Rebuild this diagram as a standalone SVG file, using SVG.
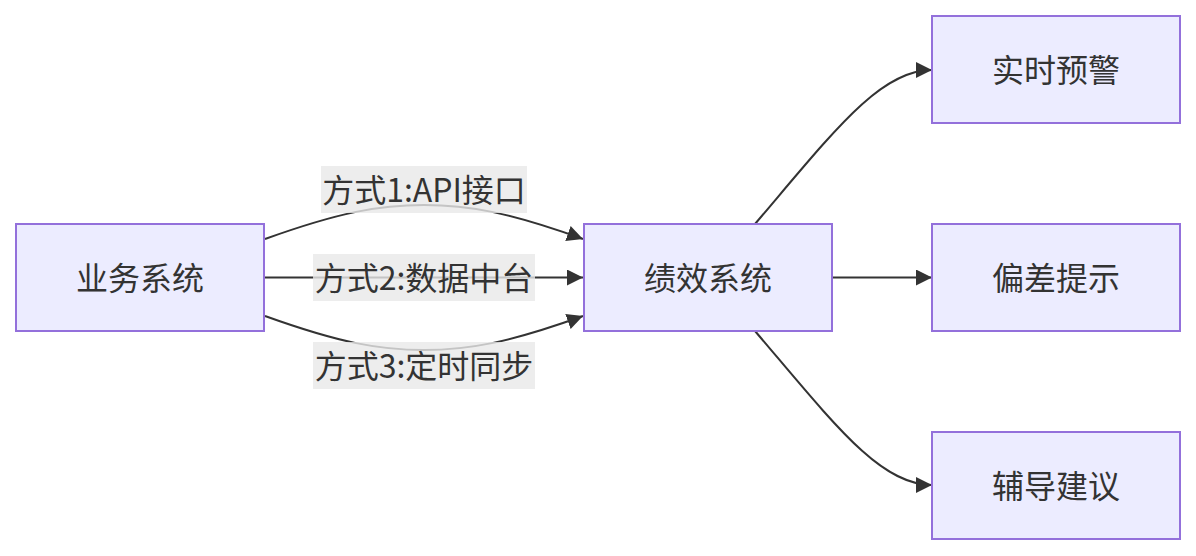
<svg xmlns="http://www.w3.org/2000/svg" width="1196" height="556" viewBox="0 0 1196 556">
<style>
.node rect{fill:#ECECFF;stroke:#9370DB;stroke-width:2}
text{font-family:"Noto Sans CJK SC","Liberation Sans",sans-serif;font-size:32px;fill:#333;text-anchor:middle;dominant-baseline:central}
.edge{fill:none;stroke:#333;stroke-width:2;marker-end:url(#arrow)}
.lbl rect{fill:#e8e8e8;fill-opacity:0.8}
</style>
<defs>
<marker id="arrow" viewBox="0 0 10 10" refX="10" refY="5" markerUnits="userSpaceOnUse" markerWidth="16" markerHeight="16" orient="auto">
<path d="M0,0 L10,5 L0,10 z" fill="#333"/>
</marker>
</defs>
<rect width="1196" height="556" fill="#fff"/>
<g id="connectors">
<path class="edge" d="M265,239 C340,212 380,205 424,205 C468,205 508,212 583,239"/>
<path class="edge" d="M265,277.5 L583,277.5"/>
<path class="edge" d="M265,316 C340,343 380,350 424,350 C468,350 508,343 583,316"/>
<path class="edge" d="M755,224 C835,130 880,70 932,70"/>
<path class="edge" d="M833,277.5 L932,277.5"/>
<path class="edge" d="M755,331 C835,425 880,485 932,485"/>
</g>
<g id="labels">
<g class="lbl" id="label1"><rect x="321" y="166" width="206" height="47"/><text x="424" y="187.5">方式1:API接口</text></g>
<g class="lbl" id="label2"><rect x="313" y="254" width="222" height="47"/><text x="424" y="275.5">方式2:数据中台</text></g>
<g class="lbl" id="label3"><rect x="313" y="342" width="222" height="47"/><text x="424" y="363.5">方式3:定时同步</text></g>
</g>
<g class="node" id="biz"><rect x="16" y="224" width="248" height="107"/><text x="140" y="275.5">业务系统</text></g>
<g class="node" id="perf"><rect x="584" y="224" width="248" height="107"/><text x="708" y="275.5">绩效系统</text></g>
<g class="node" id="alert"><rect x="932" y="16" width="248" height="107"/><text x="1056" y="67.5">实时预警</text></g>
<g class="node" id="dev"><rect x="932" y="224" width="248" height="107"/><text x="1056" y="275.5">偏差提示</text></g>
<g class="node" id="coach"><rect x="932" y="432" width="248" height="107"/><text x="1056" y="483.5">辅导建议</text></g>
</svg>
